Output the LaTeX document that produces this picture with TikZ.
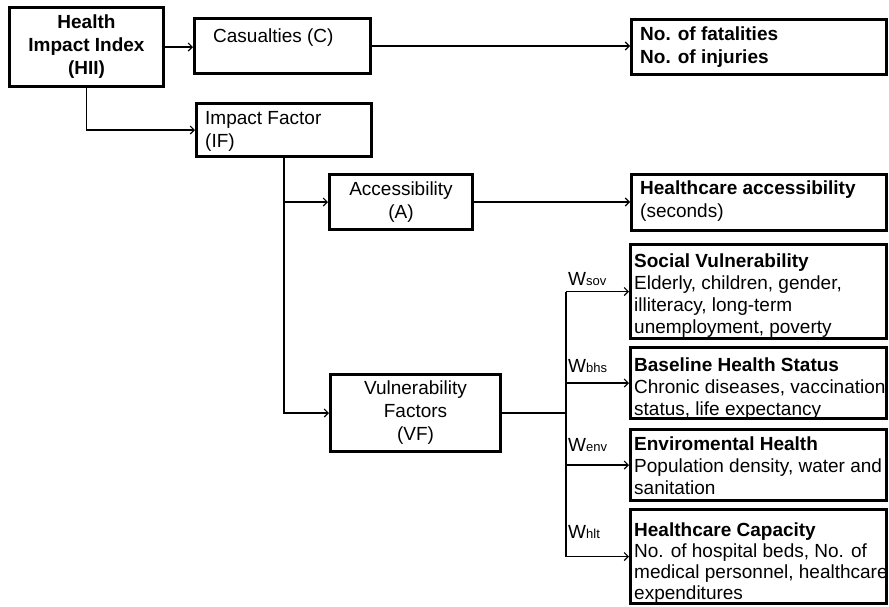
\documentclass[tikz,border=0pt]{standalone}
\usepackage{fontspec}
\setmainfont{Liberation Sans}
\usetikzlibrary{arrows.meta,calc}
\begin{document}
\begin{tikzpicture}[x=1pt,y=-1pt,
  box/.style={draw, line width=3pt, anchor=north west, inner sep=0pt, align=center,
    font=\fontsize{19}{23}\selectfont},
  boldbox/.style={box, font=\fontsize{19}{23}\selectfont\bfseries},
  txt/.style={anchor=north west, inner sep=0pt, align=left, font=\fontsize{19}{23}\selectfont},
  rtxt/.style={anchor=north west, inner sep=0pt, align=left, font=\fontsize{19}{22}\selectfont},
  arr/.style={line width=1.1pt, -{Straight Barb[length=4pt,width=8pt]}},
  ln/.style={line width=1.1pt},
  wl/.style={anchor=base west, inner sep=0pt, font=\fontsize{19}{22}\selectfont}]
\useasboundingbox (0,0) rectangle (889,606);

% boxes
\node[boldbox, minimum width=154pt, minimum height=79pt] (hii) at (8,6) {Health\\Impact Index\\(HII)};
\node[box, minimum width=176pt, minimum height=55pt] (cas) at (193,17) {};
\node[box, minimum width=255pt, minimum height=55pt] (fat) at (630,18) {};
\node[box, minimum width=175pt, minimum height=53pt] (imp) at (195,102) {};
\node[box, minimum width=143pt, minimum height=55pt] (acc) at (328,173) {Accessibility\\(A)};
\node[box, minimum width=255pt, minimum height=56pt] (hca) at (630,173) {};
\node[box, minimum width=170pt, minimum height=77pt] (vf) at (329,373) {Vulnerability\\Factors\\(VF)};
\node[box, minimum width=256pt, minimum height=94pt] (sov) at (629,243) {};
\node[box, minimum width=256pt, minimum height=71pt] (bhs) at (629,346) {};
\node[box, minimum width=256pt, minimum height=71pt] (env) at (629,428) {};
\node[box, minimum width=256pt, minimum height=94pt] (hlt) at (629,508) {};

% texts inside boxes
\node[txt] (cast) at (213,29) {Casualties (C)};
\node[txt, font=\fontsize{19}{23}\selectfont\bfseries] (fatt) at (640,27) {No. of fatalities\\No. of injuries};
\node[txt] (impt) at (205,111) {Impact Factor\\(IF)};
\node[txt] (hcat) at (640,181) {\textbf{Healthcare accessibility}\\(seconds)};
\node[rtxt] (sovt) at (634,254) {\textbf{Social Vulnerability}\\Elderly, children, gender,\\illiteracy, long-term\\unemployment, poverty};
\node[rtxt] (bhst) at (634,358) {\textbf{Baseline Health Status}\\Chronic diseases, vaccination\\status, life expectancy};
\node[rtxt] (envt) at (634,437) {\textbf{Enviromental Health}\\Population density, water and\\sanitation};
\node[rtxt, font=\fontsize{19}{21}\selectfont] (hltt) at (634,523) {\textbf{Healthcare Capacity}\\No. of hospital beds, No. of\\medical personnel, healthcare\\expenditures};

% connectors
\draw[arr] (hii.east) -- (hii.east -| cas.west);
\draw[arr] (cas.east) -- (cas.east -| fat.west);
\draw[arr] (hii.south) |- (imp.west);
\draw[arr] (imp.south) |- (acc.west);
\draw[arr] (imp.south) |- (vf.west);
\draw[arr] (acc.east) -- (acc.east -| hca.west);

\coordinate (bus) at (566,413);
\draw[ln] (vf.east) -- (vf.east -| bus);
\draw[ln] (bus |- sov.west) -- (bus |- hlt.west);
\draw[arr] (bus |- sov.west) -- (sov.west);
\draw[arr] (bus |- bhs.west) -- (bhs.west);
\draw[arr] (bus |- env.west) -- (env.west);
\draw[arr] (bus |- hlt.west) -- (hlt.west);

% weight labels
\node[wl] (wsov) at (568,285) {W{\fontsize{13}{13}\selectfont sov}};
\node[wl] (wbhs) at (568,372) {W{\fontsize{13}{13}\selectfont bhs}};
\node[wl] (wenv) at (568,451) {W{\fontsize{13}{13}\selectfont env}};
\node[wl] (whlt) at (568,538) {W{\fontsize{13}{13}\selectfont hlt}};
\end{tikzpicture}
\end{document}
